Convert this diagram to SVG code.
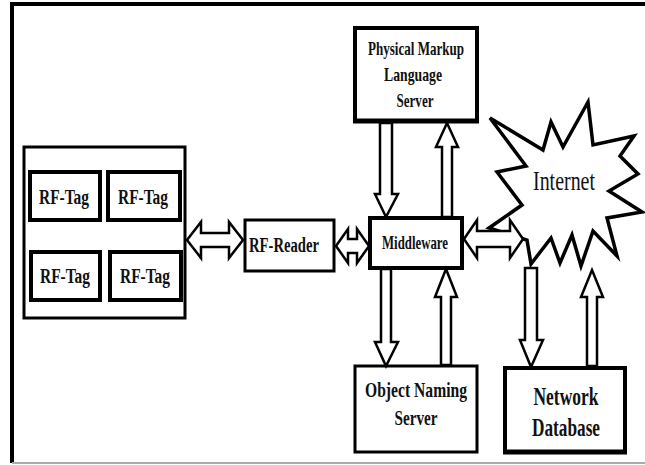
<svg xmlns="http://www.w3.org/2000/svg" width="645" height="465" viewBox="0 0 645 465">
<style>
.box{fill:#fff;stroke:#000;stroke-width:4}
.thin{fill:#fff;stroke:#000;stroke-width:3}
.arr{fill:#fff;stroke:#000;stroke-width:2.5;stroke-linejoin:miter}
.lbl{font-family:"Liberation Serif","Times New Roman",serif;font-weight:bold;fill:#111;text-anchor:middle}
.net{font-family:"Liberation Serif","Times New Roman",serif;fill:#111;text-anchor:middle}
</style>
<rect width="645" height="465" fill="#fff"/>
<g id="frame">
<path d="M12,463 V4 H645" fill="none" stroke="#000" stroke-width="4"/>
<line x1="12" y1="463" x2="645" y2="463" stroke="#aaa" stroke-width="2"/>
</g>
<g id="tags">
<rect class="thin" x="24" y="147" width="161" height="171"/>
</g>
<g id="tag1"><rect class="box" x="30" y="172" width="70" height="48"/><text class="lbl" x="64" y="204" font-size="20" textLength="50" lengthAdjust="spacingAndGlyphs">RF-Tag</text></g>
<g id="tag2"><rect class="box" x="108" y="172" width="72" height="48"/><text class="lbl" x="143" y="204" font-size="20" textLength="50" lengthAdjust="spacingAndGlyphs">RF-Tag</text></g>
<g id="tag3"><rect class="box" x="31" y="252" width="69" height="48"/><text class="lbl" x="65" y="283" font-size="20" textLength="50" lengthAdjust="spacingAndGlyphs">RF-Tag</text></g>
<g id="tag4"><rect class="box" x="110" y="252" width="71" height="48"/><text class="lbl" x="145" y="283" font-size="20" textLength="50" lengthAdjust="spacingAndGlyphs">RF-Tag</text></g>
<g id="reader"><rect class="thin" x="245" y="220" width="89" height="51"/><text class="lbl" x="284" y="252" font-size="20" textLength="70" lengthAdjust="spacingAndGlyphs">RF-Reader</text></g>
<g id="middleware"><rect class="box" x="370" y="218" width="92" height="50"/><text class="lbl" x="415" y="249" font-size="19" textLength="66" lengthAdjust="spacingAndGlyphs">Middleware</text></g>
<g id="pml"><rect class="box" x="355" y="28" width="122" height="93"/><line x1="353" y1="121" x2="479" y2="121" stroke="#000" stroke-width="5"/>
<text class="lbl" x="416" y="55" font-size="19" textLength="96" lengthAdjust="spacingAndGlyphs">Physical Markup</text>
<text class="lbl" x="413" y="81" font-size="19" textLength="58" lengthAdjust="spacingAndGlyphs">Language</text>
<text class="lbl" x="415" y="107" font-size="19" textLength="37" lengthAdjust="spacingAndGlyphs">Server</text></g>
<g id="ons"><rect class="thin" x="355" y="366" width="122" height="86"/>
<text class="lbl" x="416" y="397" font-size="21" textLength="102" lengthAdjust="spacingAndGlyphs">Object Naming</text>
<text class="lbl" x="416" y="425" font-size="21" textLength="43" lengthAdjust="spacingAndGlyphs">Server</text></g>
<g id="database"><rect class="box" x="505" y="368" width="120" height="84"/><line x1="503" y1="452" x2="627" y2="452" stroke="#000" stroke-width="5"/>
<text class="lbl" x="566" y="405" font-size="25" textLength="65" lengthAdjust="spacingAndGlyphs">Network</text>
<text class="lbl" x="566" y="436" font-size="25" textLength="68" lengthAdjust="spacingAndGlyphs">Database</text></g>
<g id="internet">
<polygon points="490,118 543,150 551,122 563,147 588,102 593,145 634,136 620,156 638,174 609,191 642,212 607,218 617,256 593,231 581,266 572,235 560,263 551,238 531,264 527,240 489,228 522,205 497,172 526,166" fill="#fff" stroke="#000" stroke-width="3.5" stroke-linejoin="miter"/>
<text class="net" x="564" y="190" font-size="28" textLength="62" lengthAdjust="spacingAndGlyphs">Internet</text>
</g>
<g id="connectors">
<polygon class="arr" points="187,240 201,222 201,233 229,233 229,222 243,240 229,258 229,247 201,247 201,258"/>
<polygon class="arr" points="336,246 348,229 348,239 357,239 357,229 369,246 357,263 357,253 348,253 348,263"/>
<polygon class="arr" points="464,239 477,220 477,231 510,231 510,220 523,239 510,258 510,247 477,247 477,258"/>
<polygon class="arr" points="380,123 392,123 392,194 398,194 386,217 375,194 380,194"/>
<polygon class="arr" points="442,217 452,217 452,147 458,147 447,123 436,147 442,147"/>
<polygon class="arr" points="381,269 391,269 391,342 398,342 386,366 375,342 381,342"/>
<polygon class="arr" points="441,365 451,365 451,297 457,297 446,269 435,297 441,297"/>
<polygon class="arr" points="525,268 537,268 537,340 543,340 531,367 520,340 525,340"/>
<polygon class="arr" points="587,366 597,366 597,297 603,297 592,270 581,297 587,297"/>
</g>
</svg>
